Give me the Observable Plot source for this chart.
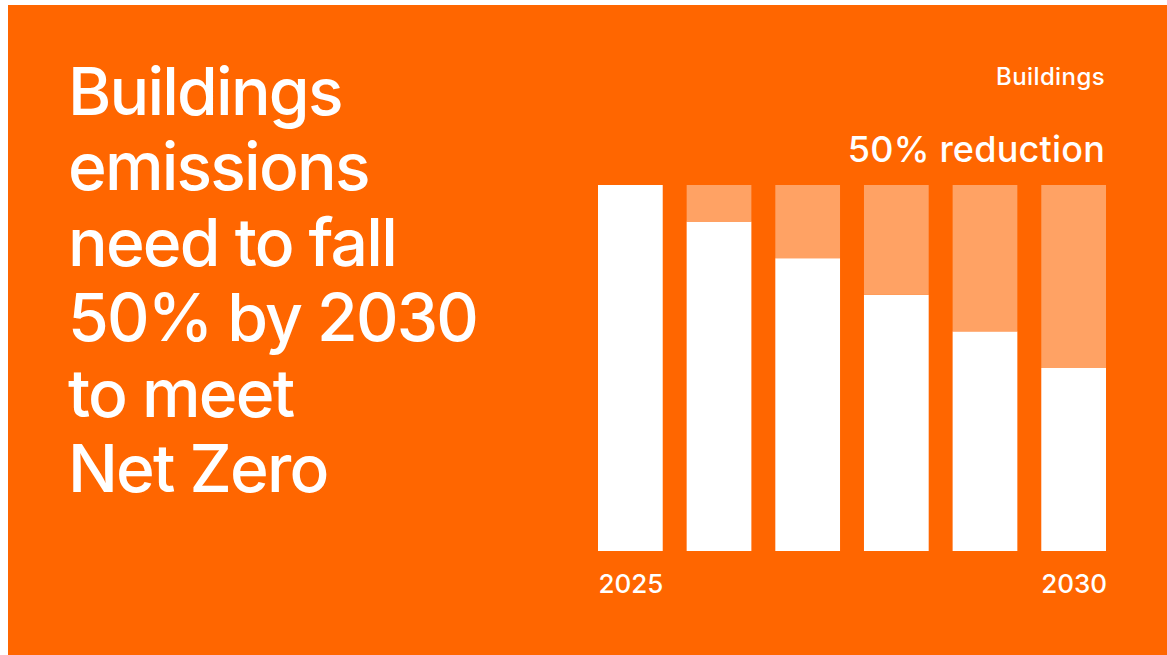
<!DOCTYPE html>
<html>
<head>
<meta charset="utf-8">
<script src="https://cdn.jsdelivr.net/npm/d3@7"></script>
<script src="https://cdn.jsdelivr.net/npm/@observablehq/plot@0.6"></script>
<style>
  html, body { margin: 0; padding: 0; background: #ffffff; }
  body { width: 1167px; height: 655px; position: relative; overflow: hidden; font-family: Inter, "Noto Sans", sans-serif; }
  #panel { position: absolute; left: 8px; top: 5px; width: 1159px; height: 650px; background: #ff6600; }
  #title { position: absolute; left: 60px; top: 49px; color: #fff; font-size: 66px; font-weight: 500; line-height: 75.4px; letter-spacing: -1.8px; }
  #sub1 { position: absolute; right: 62px; top: 57px; color: #fff; font-size: 24px; font-weight: 500; letter-spacing: 0.4px; }
  #sub2 { position: absolute; right: 62px; top: 122px; color: #fff; font-size: 36px; font-weight: 500; letter-spacing: 0.2px; }
  #chart { position: absolute; left: 0; top: 0; }
</style>
</head>
<body>
<div id="panel">
  <div id="chart"></div>
  <div id="title"></div>
  <div id="sub1"></div>
  <div id="sub2"></div>
</div>
<script>
const titleLines = ["Buildings", "emissions", "need to fall", "50% by 2030", "to meet", "Net Zero"];
const sectorLabel = "Buildings";
const reductionLabel = "50% reduction";
const years = ["2025", "2026", "2027", "2028", "2029", "2030"];
const remaining = [100, 90, 80, 70, 60, 50];
const reduction = [0, 10, 20, 30, 40, 50];
const tickYears = ["2025", "2030"];
const seriesNames = ["Remaining", "Reduction"];
const seriesColors = ["#ffffff", "#ffa264"];

document.getElementById("title").innerHTML = titleLines.join("<br>");
document.getElementById("sub1").textContent = sectorLabel;
document.getElementById("sub2").textContent = reductionLabel;

const rows = [];
years.forEach((y, i) => {
  rows.push({year: y, series: seriesNames[0], value: remaining[i]});
  rows.push({year: y, series: seriesNames[1], value: reduction[i]});
});

const chart = Plot.plot({
  width: 1159,
  height: 650,
  marginLeft: 590,
  marginRight: 61,
  marginTop: 180,
  marginBottom: 104,
  style: {background: "transparent", color: "#fff", fontFamily: "Inter, 'Noto Sans', sans-serif", fontSize: "26px", fontWeight: 500},
  x: {domain: years, paddingInner: 0.27, paddingOuter: 0, round: false, ticks: tickYears, tickSize: 0, tickPadding: 23, label: null},
  y: {domain: [0, 100], axis: null},
  color: {domain: seriesNames, range: seriesColors},
  marks: [
    Plot.barY(rows, {x: "year", y: "value", fill: "series", order: seriesNames})
  ]
});
document.getElementById("chart").appendChild(chart);
</script>
</body>
</html>
